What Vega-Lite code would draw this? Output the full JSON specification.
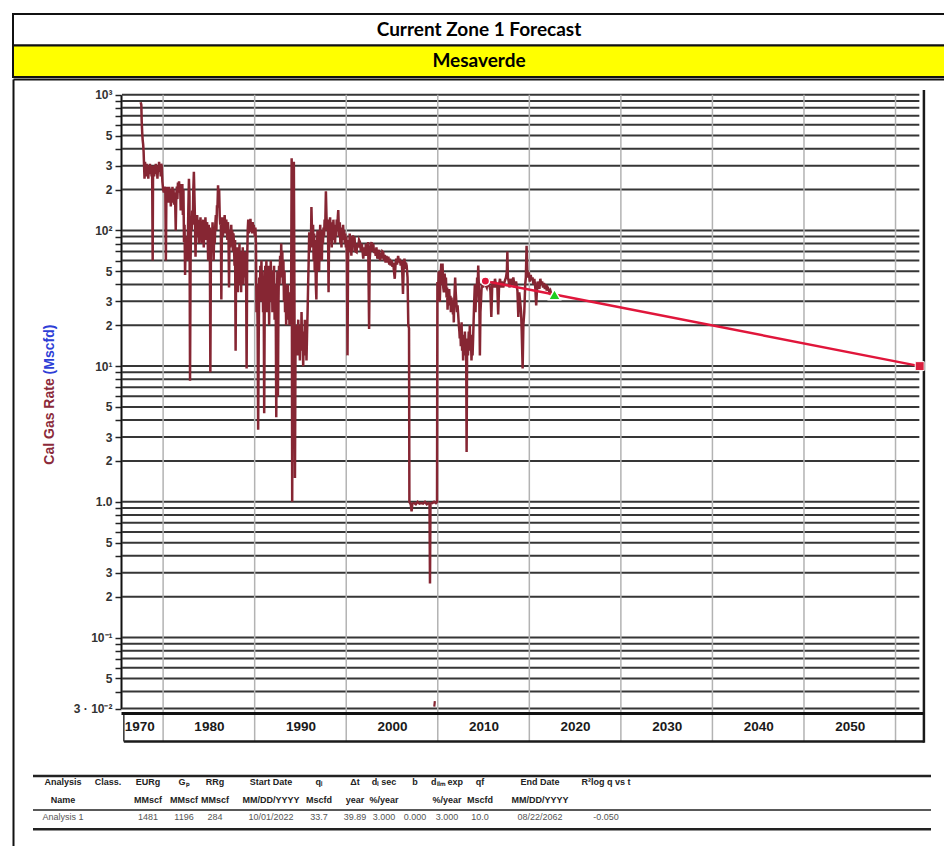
{
  "$schema": "https://vega.github.io/schema/vega-lite/v6.json",
  "padding": {"left": 10, "top": 12, "right": 0, "bottom": 0},
  "background": "white",
  "spacing": 0,
  "config": {"view": {"stroke": "#111111", "strokeWidth": 2}, "font": "Liberation Sans"},
  "datasets": {
    "header": [{"label": "Current Zone 1 Forecast"}, {"label": "Mesaverde"}],
    "gridvals": [
      {"v": 0.03},{"v": 0.04},{"v": 0.05},{"v": 0.06},{"v": 0.07},{"v": 0.08},{"v": 0.09},
      {"v": 0.1},{"v": 0.2},{"v": 0.3},{"v": 0.4},{"v": 0.5},{"v": 0.6},{"v": 0.7},{"v": 0.8},{"v": 0.9},
      {"v": 1},{"v": 2},{"v": 3},{"v": 4},{"v": 5},{"v": 6},{"v": 7},{"v": 8},{"v": 9},
      {"v": 10},{"v": 20},{"v": 30},{"v": 40},{"v": 50},{"v": 60},{"v": 70},{"v": 80},{"v": 90},
      {"v": 100},{"v": 200},{"v": 300},{"v": 400},{"v": 500},{"v": 600},{"v": 700},{"v": 800},{"v": 900},
      {"v": 1000}
    ],
    "decades": [{"d": 1980},{"d": 1990},{"d": 2000},{"d": 2010},{"d": 2020},{"d": 2030},{"d": 2040},{"d": 2050},{"d": 2060}],
    "prod": [
      {"t":1977.55,"q":880},{"t":1977.62,"q":840},{"t":1977.66,"q":640},{"t":1977.72,"q":520},{"t":1977.77,"q":460},{"t":1977.82,"q":430},{"t":1977.87,"q":380},{"t":1977.92,"q":300},{"t":1977.97,"q":240},
      {"t":1978.02,"q":320},{"t":1978.08,"q":290},{"t":1978.14,"q":250},{"t":1978.2,"q":310},{"t":1978.26,"q":270},{"t":1978.32,"q":300},{"t":1978.38,"q":240},{"t":1978.44,"q":290},{"t":1978.5,"q":260},{"t":1978.56,"q":310},{"t":1978.62,"q":270},{"t":1978.68,"q":300},{"t":1978.74,"q":250},{"t":1978.8,"q":290},{"t":1978.86,"q":60},{"t":1978.9,"q":270},{"t":1978.96,"q":300},
      {"t":1979.02,"q":250},{"t":1979.08,"q":290},{"t":1979.14,"q":260},{"t":1979.2,"q":310},{"t":1979.26,"q":270},{"t":1979.32,"q":300},{"t":1979.38,"q":240},{"t":1979.44,"q":290},{"t":1979.5,"q":270},{"t":1979.56,"q":320},{"t":1979.62,"q":280},{"t":1979.68,"q":300},{"t":1979.74,"q":250},{"t":1979.8,"q":310},{"t":1979.86,"q":290},{"t":1979.92,"q":230},
      {"t":1980.0,"q":200},{"t":1980.08,"q":190},{"t":1980.16,"q":210},{"t":1980.24,"q":195},{"t":1980.3,"q":60},{"t":1980.36,"q":190},{"t":1980.42,"q":210},{"t":1980.48,"q":170},{"t":1980.54,"q":200},{"t":1980.6,"q":160},{"t":1980.66,"q":210},{"t":1980.72,"q":170},{"t":1980.78,"q":200},{"t":1980.84,"q":150},{"t":1980.9,"q":190},{"t":1980.96,"q":160},
      {"t":1981.02,"q":210},{"t":1981.08,"q":170},{"t":1981.14,"q":200},{"t":1981.2,"q":155},{"t":1981.26,"q":190},{"t":1981.32,"q":160},{"t":1981.38,"q":100},{"t":1981.44,"q":180},{"t":1981.5,"q":210},{"t":1981.56,"q":170},{"t":1981.62,"q":225},{"t":1981.68,"q":190},{"t":1981.74,"q":230},{"t":1981.8,"q":200},{"t":1981.86,"q":220},{"t":1981.92,"q":140},{"t":1981.98,"q":210},
      {"t":1982.04,"q":180},{"t":1982.1,"q":220},{"t":1982.16,"q":130},{"t":1982.22,"q":200},{"t":1982.28,"q":82},{"t":1982.34,"q":110},{"t":1982.4,"q":47},{"t":1982.46,"q":80},{"t":1982.52,"q":70},{"t":1982.58,"q":90},{"t":1982.64,"q":60},{"t":1982.7,"q":85},{"t":1982.76,"q":150},{"t":1982.82,"q":240},{"t":1982.88,"q":180},{"t":1982.94,"q":7.8},
      {"t":1983.0,"q":60},{"t":1983.06,"q":120},{"t":1983.12,"q":100},{"t":1983.18,"q":140},{"t":1983.24,"q":110},{"t":1983.3,"q":200},{"t":1983.36,"q":270},{"t":1983.42,"q":180},{"t":1983.48,"q":120},{"t":1983.54,"q":64},{"t":1983.6,"q":110},{"t":1983.66,"q":90},{"t":1983.72,"q":130},{"t":1983.78,"q":100},{"t":1983.84,"q":120},{"t":1983.9,"q":80},{"t":1983.96,"q":110},
      {"t":1984.02,"q":90},{"t":1984.08,"q":125},{"t":1984.14,"q":100},{"t":1984.2,"q":80},{"t":1984.26,"q":115},{"t":1984.32,"q":95},{"t":1984.38,"q":120},{"t":1984.44,"q":75},{"t":1984.5,"q":110},{"t":1984.56,"q":90},{"t":1984.62,"q":125},{"t":1984.68,"q":100},{"t":1984.74,"q":85},{"t":1984.8,"q":115},{"t":1984.86,"q":95},{"t":1984.92,"q":60},{"t":1984.98,"q":110},
      {"t":1985.04,"q":80},{"t":1985.1,"q":105},{"t":1985.16,"q":9},{"t":1985.22,"q":70},{"t":1985.28,"q":100},{"t":1985.34,"q":80},{"t":1985.4,"q":115},{"t":1985.46,"q":90},{"t":1985.52,"q":60},{"t":1985.58,"q":100},{"t":1985.64,"q":80},{"t":1985.7,"q":110},{"t":1985.76,"q":130},{"t":1985.82,"q":100},{"t":1985.88,"q":150},{"t":1985.94,"q":150},
      {"t":1986.0,"q":215},{"t":1986.06,"q":160},{"t":1986.12,"q":200},{"t":1986.18,"q":130},{"t":1986.24,"q":110},{"t":1986.3,"q":125},{"t":1986.36,"q":31},{"t":1986.42,"q":100},{"t":1986.48,"q":125},{"t":1986.54,"q":90},{"t":1986.6,"q":115},{"t":1986.66,"q":100},{"t":1986.72,"q":130},{"t":1986.78,"q":110},{"t":1986.84,"q":95},{"t":1986.9,"q":120},{"t":1986.96,"q":100},
      {"t":1987.02,"q":85},{"t":1987.08,"q":115},{"t":1987.14,"q":95},{"t":1987.2,"q":38},{"t":1987.26,"q":100},{"t":1987.32,"q":75},{"t":1987.38,"q":90},{"t":1987.44,"q":110},{"t":1987.5,"q":80},{"t":1987.56,"q":100},{"t":1987.62,"q":70},{"t":1987.68,"q":95},{"t":1987.74,"q":80},{"t":1987.8,"q":55},{"t":1987.86,"q":85},{"t":1987.92,"q":13},{"t":1987.98,"q":70},
      {"t":1988.04,"q":50},{"t":1988.1,"q":75},{"t":1988.16,"q":35},{"t":1988.22,"q":60},{"t":1988.28,"q":45},{"t":1988.34,"q":80},{"t":1988.4,"q":40},{"t":1988.46,"q":65},{"t":1988.52,"q":35},{"t":1988.58,"q":70},{"t":1988.64,"q":50},{"t":1988.7,"q":75},{"t":1988.76,"q":40},{"t":1988.82,"q":60},{"t":1988.88,"q":45},{"t":1988.94,"q":70},
      {"t":1989.0,"q":50},{"t":1989.06,"q":60},{"t":1989.12,"q":9.6},{"t":1989.18,"q":60},{"t":1989.24,"q":100},{"t":1989.3,"q":120},{"t":1989.36,"q":95},{"t":1989.42,"q":115},{"t":1989.48,"q":100},{"t":1989.54,"q":122},{"t":1989.6,"q":98},{"t":1989.66,"q":110},{"t":1989.72,"q":95},{"t":1989.78,"q":115},{"t":1989.84,"q":100},{"t":1989.9,"q":110},{"t":1989.96,"q":100},
      {"t":1990.02,"q":90},{"t":1990.08,"q":105},{"t":1990.14,"q":80},{"t":1990.2,"q":25},{"t":1990.26,"q":40},{"t":1990.32,"q":20},{"t":1990.38,"q":3.4},{"t":1990.44,"q":15},{"t":1990.5,"q":45},{"t":1990.56,"q":30},{"t":1990.62,"q":55},{"t":1990.68,"q":35},{"t":1990.74,"q":60},{"t":1990.8,"q":30},{"t":1990.86,"q":50},{"t":1990.92,"q":25},{"t":1990.98,"q":45},
      {"t":1991.04,"q":4.5},{"t":1991.1,"q":30},{"t":1991.16,"q":55},{"t":1991.22,"q":35},{"t":1991.28,"q":60},{"t":1991.34,"q":25},{"t":1991.4,"q":50},{"t":1991.46,"q":30},{"t":1991.52,"q":55},{"t":1991.58,"q":20},{"t":1991.64,"q":45},{"t":1991.7,"q":30},{"t":1991.76,"q":60},{"t":1991.82,"q":35},{"t":1991.88,"q":50},{"t":1991.94,"q":25},
      {"t":1992.0,"q":45},{"t":1992.06,"q":30},{"t":1992.12,"q":55},{"t":1992.18,"q":22},{"t":1992.24,"q":40},{"t":1992.3,"q":30},{"t":1992.36,"q":4.2},{"t":1992.42,"q":25},{"t":1992.48,"q":50},{"t":1992.54,"q":6.0},{"t":1992.6,"q":30},{"t":1992.66,"q":55},{"t":1992.72,"q":40},{"t":1992.78,"q":65},{"t":1992.84,"q":45},{"t":1992.9,"q":80},{"t":1992.96,"q":50},
      {"t":1993.02,"q":70},{"t":1993.08,"q":40},{"t":1993.14,"q":60},{"t":1993.2,"q":30},{"t":1993.26,"q":50},{"t":1993.32,"q":25},{"t":1993.38,"q":40},{"t":1993.44,"q":20},{"t":1993.5,"q":35},{"t":1993.56,"q":25},{"t":1993.62,"q":40},{"t":1993.68,"q":22},{"t":1993.74,"q":35},{"t":1993.8,"q":20},{"t":1993.86,"q":30},{"t":1993.92,"q":25},{"t":1993.98,"q":30},
      {"t":1994.04,"q":340},{"t":1994.1,"q":1.0},{"t":1994.16,"q":25},{"t":1994.22,"q":200},{"t":1994.28,"q":320},{"t":1994.34,"q":40},{"t":1994.4,"q":1.5},{"t":1994.46,"q":15},{"t":1994.52,"q":20},{"t":1994.58,"q":12},{"t":1994.64,"q":18},{"t":1994.7,"q":14},{"t":1994.76,"q":22},{"t":1994.82,"q":12},{"t":1994.88,"q":17},{"t":1994.94,"q":11},
      {"t":1995.0,"q":20},{"t":1995.06,"q":13},{"t":1995.12,"q":25},{"t":1995.18,"q":14},{"t":1995.24,"q":18},{"t":1995.3,"q":10},{"t":1995.36,"q":16},{"t":1995.42,"q":12},{"t":1995.48,"q":22},{"t":1995.54,"q":13},{"t":1995.6,"q":19},{"t":1995.66,"q":11},{"t":1995.72,"q":17},{"t":1995.78,"q":25},{"t":1995.84,"q":40},{"t":1995.9,"q":60},{"t":1995.96,"q":97},
      {"t":1996.02,"q":70},{"t":1996.08,"q":90},{"t":1996.14,"q":75},{"t":1996.2,"q":149},{"t":1996.26,"q":100},{"t":1996.32,"q":80},{"t":1996.38,"q":110},{"t":1996.44,"q":60},{"t":1996.5,"q":95},{"t":1996.56,"q":50},{"t":1996.62,"q":85},{"t":1996.68,"q":40},{"t":1996.74,"q":31},{"t":1996.8,"q":70},{"t":1996.86,"q":100},{"t":1996.92,"q":60},{"t":1996.98,"q":90},
      {"t":1997.04,"q":50},{"t":1997.1,"q":80},{"t":1997.16,"q":110},{"t":1997.22,"q":70},{"t":1997.28,"q":95},{"t":1997.34,"q":60},{"t":1997.4,"q":100},{"t":1997.46,"q":80},{"t":1997.52,"q":105},{"t":1997.58,"q":90},{"t":1997.64,"q":120},{"t":1997.7,"q":100},{"t":1997.78,"q":194},{"t":1997.84,"q":130},{"t":1997.9,"q":100},{"t":1997.96,"q":120},
      {"t":1998.02,"q":90},{"t":1998.07,"q":35},{"t":1998.12,"q":80},{"t":1998.18,"q":110},{"t":1998.24,"q":125},{"t":1998.3,"q":95},{"t":1998.36,"q":115},{"t":1998.42,"q":75},{"t":1998.48,"q":100},{"t":1998.54,"q":85},{"t":1998.6,"q":120},{"t":1998.66,"q":95},{"t":1998.72,"q":110},{"t":1998.78,"q":80},{"t":1998.84,"q":105},{"t":1998.9,"q":90},{"t":1998.96,"q":120},
      {"t":1999.02,"q":100},{"t":1999.08,"q":125},{"t":1999.13,"q":141},{"t":1999.18,"q":110},{"t":1999.24,"q":90},{"t":1999.3,"q":115},{"t":1999.36,"q":80},{"t":1999.42,"q":100},{"t":1999.48,"q":75},{"t":1999.54,"q":105},{"t":1999.6,"q":85},{"t":1999.66,"q":110},{"t":1999.72,"q":90},{"t":1999.78,"q":100},{"t":1999.84,"q":80},{"t":1999.9,"q":95},{"t":1999.96,"q":75},
      {"t":2000.02,"q":90},{"t":2000.08,"q":60},{"t":2000.14,"q":12},{"t":2000.2,"q":60},{"t":2000.26,"q":85},{"t":2000.32,"q":70},{"t":2000.38,"q":95},{"t":2000.44,"q":75},{"t":2000.5,"q":90},{"t":2000.56,"q":65},{"t":2000.62,"q":85},{"t":2000.68,"q":70},{"t":2000.74,"q":92},{"t":2000.8,"q":80},{"t":2000.9,"q":90},
      {"t":2001.0,"q":70},{"t":2001.13,"q":69},{"t":2001.2,"q":80},{"t":2001.3,"q":75},{"t":2001.4,"q":85},{"t":2001.5,"q":82},{"t":2001.6,"q":70},{"t":2001.7,"q":80},{"t":2001.86,"q":62},{"t":2001.95,"q":75},
      {"t":2002.05,"q":65},{"t":2002.15,"q":80},{"t":2002.22,"q":65},{"t":2002.3,"q":72},{"t":2002.4,"q":82},{"t":2002.5,"q":18.8},{"t":2002.56,"q":60},{"t":2002.65,"q":75},{"t":2002.77,"q":82},{"t":2002.85,"q":70},{"t":2002.95,"q":80},
      {"t":2003.05,"q":68},{"t":2003.13,"q":73},{"t":2003.22,"q":65},{"t":2003.3,"q":75},{"t":2003.4,"q":62},{"t":2003.5,"q":65},{"t":2003.6,"q":72},{"t":2003.7,"q":60},{"t":2003.78,"q":68},{"t":2003.86,"q":62},{"t":2003.95,"q":70},
      {"t":2004.04,"q":69},{"t":2004.13,"q":60},{"t":2004.22,"q":66},{"t":2004.3,"q":58},{"t":2004.4,"q":65},{"t":2004.5,"q":58},{"t":2004.6,"q":64},{"t":2004.7,"q":56},{"t":2004.77,"q":62},{"t":2004.86,"q":55},{"t":2004.95,"q":60},
      {"t":2005.05,"q":54},{"t":2005.13,"q":58},{"t":2005.22,"q":50},{"t":2005.3,"q":44},{"t":2005.38,"q":55},{"t":2005.46,"q":62},{"t":2005.55,"q":56},{"t":2005.67,"q":65},{"t":2005.76,"q":58},{"t":2005.86,"q":62},{"t":2005.95,"q":55},
      {"t":2006.05,"q":60},{"t":2006.12,"q":50},{"t":2006.2,"q":34},{"t":2006.28,"q":55},{"t":2006.36,"q":62},{"t":2006.45,"q":52},{"t":2006.52,"q":58},{"t":2006.6,"q":55},{"t":2006.7,"q":45},{"t":2006.78,"q":20},{"t":2006.86,"q":19},{"t":2006.9,"q":1.0},{"t":2006.98,"q":0.98},
      {"t":2007.06,"q":0.95},{"t":2007.14,"q":0.85},{"t":2007.22,"q":0.97},{"t":2007.4,"q":0.98},{"t":2007.6,"q":0.96},{"t":2007.8,"q":1.0},{"t":2008.0,"q":0.97},{"t":2008.2,"q":0.98},{"t":2008.4,"q":0.97},{"t":2008.6,"q":1.0},{"t":2008.8,"q":0.96},{"t":2009.0,"q":0.98},{"t":2009.1,"q":0.97},{"t":2009.15,"q":0.25},{"t":2009.2,"q":0.97},{"t":2009.4,"q":0.98},{"t":2009.6,"q":1.0},{"t":2009.8,"q":0.98},{"t":2009.92,"q":1.0},{"t":2009.96,"q":41.7},
      {"t":2010.04,"q":35},{"t":2010.1,"q":50},{"t":2010.16,"q":42},{"t":2010.22,"q":30},{"t":2010.3,"q":45},{"t":2010.38,"q":57},{"t":2010.45,"q":40},{"t":2010.52,"q":57},{"t":2010.6,"q":38},{"t":2010.67,"q":35},{"t":2010.75,"q":48},{"t":2010.82,"q":40},{"t":2010.89,"q":45},{"t":2010.96,"q":32},
      {"t":2011.02,"q":38},{"t":2011.07,"q":26},{"t":2011.13,"q":35},{"t":2011.2,"q":30},{"t":2011.25,"q":37},{"t":2011.32,"q":28},{"t":2011.38,"q":33},{"t":2011.43,"q":25},{"t":2011.5,"q":32},{"t":2011.56,"q":27},{"t":2011.6,"q":30},{"t":2011.66,"q":24},{"t":2011.72,"q":28},{"t":2011.75,"q":21},{"t":2011.8,"q":30},{"t":2011.86,"q":38},{"t":2011.9,"q":45},{"t":2011.96,"q":35},
      {"t":2012.02,"q":30},{"t":2012.1,"q":25},{"t":2012.16,"q":28},{"t":2012.23,"q":24},{"t":2012.3,"q":20},{"t":2012.36,"q":18},{"t":2012.4,"q":16},{"t":2012.46,"q":19},{"t":2012.52,"q":14},{"t":2012.6,"q":21},{"t":2012.66,"q":13},{"t":2012.72,"q":17},{"t":2012.77,"q":11},{"t":2012.84,"q":15},{"t":2012.9,"q":12},{"t":2012.96,"q":18},
      {"t":2013.04,"q":13},{"t":2013.1,"q":15},{"t":2013.15,"q":2.33},{"t":2013.2,"q":12},{"t":2013.26,"q":16},{"t":2013.3,"q":12},{"t":2013.38,"q":18},{"t":2013.44,"q":14},{"t":2013.5,"q":20},{"t":2013.56,"q":13},{"t":2013.62,"q":17},{"t":2013.68,"q":11},{"t":2013.74,"q":14},{"t":2013.8,"q":12},{"t":2013.86,"q":16},{"t":2013.92,"q":22},{"t":2013.98,"q":30},
      {"t":2014.05,"q":40},{"t":2014.12,"q":25},{"t":2014.18,"q":35},{"t":2014.23,"q":30},{"t":2014.3,"q":45},{"t":2014.36,"q":38},{"t":2014.42,"q":55},{"t":2014.48,"q":40},{"t":2014.54,"q":30},{"t":2014.6,"q":12},{"t":2014.66,"q":25},{"t":2014.72,"q":30},{"t":2014.78,"q":37},{"t":2014.86,"q":42},{"t":2014.95,"q":38},
      {"t":2015.05,"q":42},{"t":2015.2,"q":40},{"t":2015.35,"q":38},{"t":2015.5,"q":44},{"t":2015.62,"q":40},{"t":2015.75,"q":36},{"t":2015.85,"q":23},{"t":2015.95,"q":40},
      {"t":2016.05,"q":42},{"t":2016.15,"q":38},{"t":2016.25,"q":44},{"t":2016.4,"q":38},{"t":2016.5,"q":40},{"t":2016.6,"q":24},{"t":2016.7,"q":40},{"t":2016.8,"q":44},{"t":2016.9,"q":38},
      {"t":2017.0,"q":42},{"t":2017.15,"q":38},{"t":2017.3,"q":42},{"t":2017.45,"q":45},{"t":2017.55,"q":50},{"t":2017.6,"q":70},{"t":2017.66,"q":45},{"t":2017.75,"q":42},{"t":2017.85,"q":38},{"t":2017.95,"q":44},
      {"t":2018.1,"q":40},{"t":2018.25,"q":45},{"t":2018.4,"q":38},{"t":2018.55,"q":42},{"t":2018.7,"q":36},{"t":2018.8,"q":23},{"t":2018.9,"q":35},
      {"t":2019.0,"q":30},{"t":2019.1,"q":25},{"t":2019.17,"q":18},{"t":2019.27,"q":9.6},{"t":2019.35,"q":20},{"t":2019.45,"q":25},{"t":2019.55,"q":40},{"t":2019.62,"q":45},{"t":2019.7,"q":77},{"t":2019.78,"q":50},{"t":2019.86,"q":45},{"t":2019.95,"q":49},
      {"t":2020.05,"q":42},{"t":2020.15,"q":47},{"t":2020.25,"q":43},{"t":2020.35,"q":45},{"t":2020.45,"q":40},{"t":2020.55,"q":44},{"t":2020.65,"q":38},{"t":2020.75,"q":28},{"t":2020.82,"q":35},{"t":2020.9,"q":42},
      {"t":2021.0,"q":40},{"t":2021.1,"q":37},{"t":2021.2,"q":44},{"t":2021.3,"q":40},{"t":2021.4,"q":42},{"t":2021.5,"q":38},{"t":2021.6,"q":41},{"t":2021.7,"q":37},{"t":2021.8,"q":40},{"t":2021.9,"q":36},
      {"t":2022.0,"q":38},{"t":2022.1,"q":37},{"t":2022.2,"q":35},{"t":2022.3,"q":36},{"t":2022.4,"q":34},{"t":2022.5,"q":35}
    ],
    "blip": [{"t": 2009.62, "q": 0.031}, {"t": 2009.68, "q": 0.034}],
    "forecast": [{"t": 2015.2, "q": 42.3}, {"t": 2022.75, "q": 33.7}, {"t": 2062.64, "q": 10.0}],
    "fitpt": [{"t": 2015.2, "q": 42.3}],
    "startpt": [{"t": 2022.75, "q": 33.7}],
    "endpt": [{"t": 2062.64, "q": 10.0}],
    "table": [
      {"row":0,"col":0,"s":"Analysis"},{"row":0,"col":1,"s":"Class."},{"row":0,"col":2,"s":"EURg"},{"row":0,"col":3,"s":"Gₚ"},{"row":0,"col":4,"s":"RRg"},{"row":0,"col":5,"s":"Start Date"},{"row":0,"col":6,"s":"qᵢ"},{"row":0,"col":7,"s":"Δt"},{"row":0,"col":8,"s":"dᵢ sec"},{"row":0,"col":9,"s":"b"},{"row":0,"col":10,"s":"dₗᵢₘ exp"},{"row":0,"col":11,"s":"qf"},{"row":0,"col":12,"s":"End Date"},{"row":0,"col":13,"s":"R²log q vs t"},
      {"row":1,"col":0,"s":"Name"},{"row":1,"col":2,"s":"MMscf"},{"row":1,"col":3,"s":"MMscf"},{"row":1,"col":4,"s":"MMscf"},{"row":1,"col":5,"s":"MM/DD/YYYY"},{"row":1,"col":6,"s":"Mscfd"},{"row":1,"col":7,"s":"year"},{"row":1,"col":8,"s":"%/year"},{"row":1,"col":10,"s":"%/year"},{"row":1,"col":11,"s":"Mscfd"},{"row":1,"col":12,"s":"MM/DD/YYYY"},
      {"row":2,"col":0,"s":"Analysis 1"},{"row":2,"col":2,"s":"1481"},{"row":2,"col":3,"s":"1196"},{"row":2,"col":4,"s":"284"},{"row":2,"col":5,"s":"10/01/2022"},{"row":2,"col":6,"s":"33.7"},{"row":2,"col":7,"s":"39.89"},{"row":2,"col":8,"s":"3.000"},{"row":2,"col":9,"s":"0.000"},{"row":2,"col":10,"s":"3.000"},{"row":2,"col":11,"s":"10.0"},{"row":2,"col":12,"s":"08/22/2062"},{"row":2,"col":13,"s":"-0.050"}
    ]
  },
  "vconcat": [
    {
      "width": 932,
      "height": 63,
      "data": {"name": "header"},
      "encoding": {
        "y": {"field": "label", "type": "nominal", "sort": null, "axis": null, "scale": {"paddingInner": 0, "paddingOuter": 0}}
      },
      "layer": [
        {
          "mark": {"type": "rect", "stroke": "#111111", "strokeWidth": 2},
          "encoding": {"fill": {"condition": {"test": "datum.label == 'Mesaverde'", "value": "#ffff00"}, "value": "#ffffff"}}
        },
        {
          "mark": {"type": "text", "font": "Lato", "fontWeight": "bold", "fontSize": 19, "color": "#000000", "baseline": "middle"},
          "encoding": {"text": {"field": "label"}}
        }
      ]
    },
    {
      "width": 932,
      "height": 768,
      "view": {"stroke": null},
      "layer": [
        {
          "data": {"values": [{"a": 0}]},
          "mark": {"type": "point", "opacity": 0},
          "encoding": {
            "x": {"field": "a", "type": "quantitative", "scale": {"domain": [0, 1]}, "axis": {"orient": "top", "domain": true, "domainColor": "#111111", "domainWidth": 2, "labels": false, "ticks": false, "grid": false, "title": null}},
            "y": {"field": "a", "type": "quantitative", "scale": {"domain": [0, 1]}, "axis": {"orient": "left", "domain": true, "domainColor": "#111111", "domainWidth": 2, "labels": false, "ticks": false, "grid": false, "title": null}}
          }
        },
        {
          "layer": [
            {
              "data": {"name": "gridvals"},
              "mark": {"type": "rule", "color": "#363636", "strokeWidth": 2},
              "encoding": {
                "y": {"field": "v", "type": "quantitative", "axis": null, "scale": {"type": "log", "domain": [0.03, 1000], "range": [629.5, 15.7], "nice": false}},
                "x": {"datum": 1975.5, "type": "quantitative", "axis": null, "scale": {"type": "linear", "domain": [1975.4, 2063.0], "range": [108, 910], "nice": false, "zero": false}},
                "x2": {"datum": 2062.6}
              }
            },
            {
              "data": {"name": "decades"},
              "mark": {"type": "rule", "color": "#b3b3b3", "strokeWidth": 1.5},
              "encoding": {
                "x": {"field": "d", "type": "quantitative", "axis": null, "scale": {"type": "linear", "domain": [1975.4, 2063.0], "range": [108, 910], "nice": false, "zero": false}},
                "y": {"datum": 1000, "type": "quantitative", "axis": null, "scale": {"type": "log", "domain": [0.03, 1000], "range": [629.5, 15.7], "nice": false}},
                "y2": {"datum": 0.01714}
              }
            },
            {
              "data": {"values": [{}]},
              "mark": {"type": "rule", "color": "#1a1a1a", "strokeWidth": 2.5},
              "encoding": {
                "x": {"datum": 1975.71, "type": "quantitative", "axis": null, "scale": {"type": "linear", "domain": [1975.4, 2063.0], "range": [108, 910], "nice": false, "zero": false}},
                "x2": {"datum": 2063.1},
                "y": {"datum": 0.01714, "type": "quantitative", "axis": null, "scale": {"type": "log", "domain": [0.03, 1000], "range": [629.5, 15.7], "nice": false}}
              }
            },
            {
              "data": {"values": [{}]},
              "mark": {"type": "rule", "color": "#333333", "strokeWidth": 1.5},
              "encoding": {
                "x": {"datum": 1975.71, "type": "quantitative", "axis": null, "scale": {"type": "linear", "domain": [1975.4, 2063.0], "range": [108, 910], "nice": false, "zero": false}},
                "y": {"datum": 0.0278, "type": "quantitative", "axis": null, "scale": {"type": "log", "domain": [0.03, 1000], "range": [629.5, 15.7], "nice": false}},
                "y2": {"datum": 0.01714}
              }
            },
            {
              "data": {"values": [{}]},
              "mark": {"type": "rule", "color": "#1a1a1a", "strokeWidth": 2.5},
              "encoding": {
                "x": {"datum": 2063.1, "type": "quantitative", "axis": null, "scale": {"type": "linear", "domain": [1975.4, 2063.0], "range": [108, 910], "nice": false, "zero": false}},
                "y": {"datum": 1083, "type": "quantitative", "axis": null, "scale": {"type": "log", "domain": [0.03, 1000], "range": [629.5, 15.7], "nice": false}},
                "y2": {"datum": 0.0168}
              }
            },
            {
              "data": {"name": "prod"},
              "mark": {"type": "line", "color": "#862633", "strokeWidth": 2.5, "strokeJoin": "miter", "clip": false},
              "encoding": {
                "x": {
                  "field": "t", "type": "quantitative",
                  "scale": {"type": "linear", "domain": [1975.4, 2063.0], "range": [108, 910], "nice": false, "zero": false},
                  "axis": {
                    "orient": "bottom", "offset": -134, "title": null, "grid": false,
                    "values": [1977.4, 1985, 1995, 2005, 2015, 2025, 2035, 2045, 2055],
                    "labelExpr": "datum.value < 1980 ? '1970' : toString(floor(datum.value / 10) * 10)",
                    "ticks": false, "tickSize": 0, "labelPadding": 13.5, "labelBaseline": "middle",
                    "labelFont": "Liberation Sans", "labelFontWeight": "bold", "labelFontSize": 13.5, "labelColor": "#1a1a1a",
                    "labelFlush": false, "labelOverlap": false, "labelBound": false,
                    "domain": true, "domainColor": "#111111", "domainWidth": 3, "zindex": 1
                  }
                },
                "y": {
                  "field": "q", "type": "quantitative",
                  "scale": {"type": "log", "domain": [0.03, 1000], "range": [629.5, 15.7], "nice": false},
                  "axis": {
                    "orient": "left", "offset": -108, "grid": false,
                    "values": [0.03,0.04,0.05,0.06,0.07,0.08,0.09,0.1,0.2,0.3,0.4,0.5,0.6,0.7,0.8,0.9,1,2,3,4,5,6,7,8,9,10,20,30,40,50,60,70,80,90,100,200,300,400,500,600,700,800,900,1000],
                    "labelExpr": "datum.value < 0.035 ? '3 · 10⁻²' : datum.value > 999 ? '10³' : (datum.value > 99 && datum.value < 101) ? '10²' : (datum.value > 9.9 && datum.value < 10.1) ? '10¹' : (datum.value > 0.99 && datum.value < 1.01) ? '1.0' : (datum.value > 0.099 && datum.value < 0.101) ? '10⁻¹' : indexof([2, 3, 5], round(datum.value / pow(10, floor(log(datum.value) / LN10 + 1e-9)))) >= 0 ? toString(round(datum.value / pow(10, floor(log(datum.value) / LN10 + 1e-9)))) : ''",
                    "labelFont": "Liberation Sans", "labelFontWeight": "bold", "labelFontSize": 12, "labelColor": "#333333",
                    "labelPadding": 3, "labelOverlap": false, "labelFlush": false, "labelBound": false,
                    "tickSize": 6, "tickColor": "#222222", "tickWidth": 1.5,
                    "domain": true, "domainColor": "#111111", "domainWidth": 2,
                    "title": "Cal Gas Rate", "titleColor": "#8b2a3a", "titleFont": "Liberation Sans", "titleFontWeight": "bold", "titleFontSize": 14,
                    "titleAngle": 270, "titleX": -72, "titleY": 342, "titleAlign": "center", "titleBaseline": "middle"
                  }
                }
              }
            },
            {
              "data": {"name": "blip"},
              "mark": {"type": "line", "color": "#862633", "strokeWidth": 2.2, "clip": false},
              "encoding": {
                "x": {"field": "t", "type": "quantitative", "axis": null, "scale": {"type": "linear", "domain": [1975.4, 2063.0], "range": [108, 910], "nice": false, "zero": false}},
                "y": {"field": "q", "type": "quantitative", "axis": null, "scale": {"type": "log", "domain": [0.03, 1000], "range": [629.5, 15.7], "nice": false}}
              }
            },
            {
              "data": {"name": "forecast"},
              "mark": {"type": "line", "color": "#e0163b", "strokeWidth": 2.5, "clip": false},
              "encoding": {
                "x": {"field": "t", "type": "quantitative", "axis": null, "scale": {"type": "linear", "domain": [1975.4, 2063.0], "range": [108, 910], "nice": false, "zero": false}},
                "y": {"field": "q", "type": "quantitative", "axis": null, "scale": {"type": "log", "domain": [0.03, 1000], "range": [629.5, 15.7], "nice": false}}
              }
            },
            {
              "data": {"name": "fitpt"},
              "mark": {"type": "point", "shape": "circle", "filled": true, "size": 70, "fill": "#e0163b", "stroke": "#ffffff", "strokeWidth": 1.5, "opacity": 1, "clip": false},
              "encoding": {
                "x": {"field": "t", "type": "quantitative", "axis": null, "scale": {"type": "linear", "domain": [1975.4, 2063.0], "range": [108, 910], "nice": false, "zero": false}},
                "y": {"field": "q", "type": "quantitative", "axis": null, "scale": {"type": "log", "domain": [0.03, 1000], "range": [629.5, 15.7], "nice": false}}
              }
            },
            {
              "data": {"name": "startpt"},
              "mark": {"type": "point", "shape": "triangle-up", "filled": true, "size": 140, "fill": "#1fcc1f", "stroke": "#ffffff", "strokeWidth": 1.5, "opacity": 1, "clip": false},
              "encoding": {
                "x": {"field": "t", "type": "quantitative", "axis": null, "scale": {"type": "linear", "domain": [1975.4, 2063.0], "range": [108, 910], "nice": false, "zero": false}},
                "y": {"field": "q", "type": "quantitative", "axis": null, "scale": {"type": "log", "domain": [0.03, 1000], "range": [629.5, 15.7], "nice": false}}
              }
            },
            {
              "data": {"name": "endpt"},
              "mark": {"type": "point", "shape": "square", "filled": true, "size": 80, "fill": "#d81e3c", "stroke": "#ffffff", "strokeWidth": 1, "opacity": 1, "clip": false},
              "encoding": {
                "x": {"field": "t", "type": "quantitative", "axis": null, "scale": {"type": "linear", "domain": [1975.4, 2063.0], "range": [108, 910], "nice": false, "zero": false}},
                "y": {
                  "field": "q", "type": "quantitative",
                  "scale": {"type": "log", "domain": [0.03, 1000], "range": [629.5, 15.7], "nice": false},
                  "axis": {
                    "orient": "right", "grid": false, "labels": false, "ticks": false, "domain": false,
                    "title": "(Mscfd)", "titleColor": "#2e3ed6", "titleFont": "Liberation Sans", "titleFontWeight": "bold", "titleFontSize": 14,
                    "titleAngle": 270, "titleX": -896, "titleY": 270, "titleAlign": "center", "titleBaseline": "middle"
                  }
                }
              }
            }
          ],
          "resolve": {"axis": {"x": "independent", "y": "independent"}}
        },
        {
          "layer": [
            {
              "data": {"values": [{"r": -0.35}, {"r": 2.7}]},
              "mark": {"type": "rule", "color": "#222222", "strokeWidth": 2.5},
              "encoding": {
                "y": {"field": "r", "type": "quantitative", "axis": null, "scale": {"type": "linear", "domain": [0, 2], "range": [703, 738], "nice": false, "zero": false}},
                "x": {"datum": -1, "type": "quantitative", "axis": null, "scale": {"type": "linear", "domain": [-1,0,1,2,3,4,5,6,7,8,9,10,11,12,13,14], "range": [20,50,95,135,171,202,258,306,342,371,402,434,467,527,593,918], "nice": false, "zero": false}},
                "x2": {"datum": 14}
              }
            },
            {
              "data": {"values": [{"r": 1.6}]},
              "mark": {"type": "rule", "color": "#222222", "strokeWidth": 1.5},
              "encoding": {
                "y": {"field": "r", "type": "quantitative", "axis": null, "scale": {"type": "linear", "domain": [0, 2], "range": [703, 738], "nice": false, "zero": false}},
                "x": {"datum": -1, "type": "quantitative", "axis": null, "scale": {"type": "linear", "domain": [-1,0,1,2,3,4,5,6,7,8,9,10,11,12,13,14], "range": [20,50,95,135,171,202,258,306,342,371,402,434,467,527,593,918], "nice": false, "zero": false}},
                "x2": {"datum": 14}
              }
            },
            {
              "data": {"name": "table"},
              "transform": [{"filter": "datum.row < 2"}],
              "mark": {"type": "text", "font": "Liberation Sans", "fontWeight": "bold", "fontSize": 9, "color": "#222222", "align": "center", "baseline": "middle"},
              "encoding": {
                "y": {"field": "row", "type": "quantitative", "axis": null, "scale": {"type": "linear", "domain": [0, 2], "range": [703, 738], "nice": false, "zero": false}},
                "x": {"field": "col", "type": "quantitative", "axis": null, "scale": {"type": "linear", "domain": [-1,0,1,2,3,4,5,6,7,8,9,10,11,12,13,14], "range": [20,50,95,135,171,202,258,306,342,371,402,434,467,527,593,918], "nice": false, "zero": false}},
                "text": {"field": "s"}
              }
            },
            {
              "data": {"name": "table"},
              "transform": [{"filter": "datum.row == 2"}],
              "mark": {"type": "text", "font": "Liberation Sans", "fontSize": 9, "color": "#555555", "align": "center", "baseline": "middle"},
              "encoding": {
                "y": {"field": "row", "type": "quantitative", "axis": null, "scale": {"type": "linear", "domain": [0, 2], "range": [703, 738], "nice": false, "zero": false}},
                "x": {"field": "col", "type": "quantitative", "axis": null, "scale": {"type": "linear", "domain": [-1,0,1,2,3,4,5,6,7,8,9,10,11,12,13,14], "range": [20,50,95,135,171,202,258,306,342,371,402,434,467,527,593,918], "nice": false, "zero": false}},
                "text": {"field": "s"}
              }
            }
          ]
        }
      ],
      "resolve": {"scale": {"x": "independent", "y": "independent"}}
    }
  ]
}
